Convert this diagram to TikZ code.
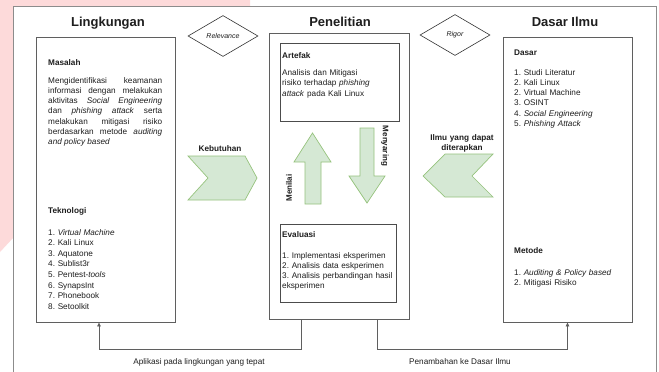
\documentclass[tikz,border=0pt]{standalone}
\usepackage{fontspec}
\setmainfont{Liberation Sans}
\usetikzlibrary{shapes.geometric,arrows.meta}
\definecolor{pinkbg}{RGB}{253,218,218}
\definecolor{boxline}{RGB}{95,95,95}
\definecolor{outerline}{RGB}{140,140,140}
\definecolor{gfill}{RGB}{213,232,212}
\definecolor{gline}{RGB}{150,195,125}
\definecolor{txt}{RGB}{30,30,30}
\newcommand\fsm{\fontsize{8.2}{10.3}\selectfont}
\newcommand\ftitle{\fontsize{13}{15}\selectfont\bfseries}
\begin{document}
\frenchspacing
\begin{tikzpicture}[x=1pt,y=-1pt,
  box/.style={draw=boxline, line width=0.8pt, fill=white, inner sep=0},
  ibox/.style={draw=black!70, line width=0.8pt, fill=white, inner sep=0},
  ttl/.style={font=\ftitle, text=txt, inner sep=0, anchor=base},
  tx/.style={font=\fsm, text=txt, inner sep=0, anchor=base west},
  hd/.style={font=\fsm\bfseries, text=txt, inner sep=0, anchor=base west},
  lst/.style={tx, text width=#1, align=left},
  diam/.style={draw=black!80, line width=0.6pt, fill=white, shape=diamond, minimum width=70pt, minimum height=41pt, inner sep=0, font=\fontsize{7}{8}\selectfont\itshape, text=txt},
  gshape/.style={fill=gfill, draw=gline, line width=0.7pt},
  conn/.style={draw=boxline, line width=0.7pt, -{Triangle[length=4pt,width=3.5pt]}},
  lbl/.style={font=\fsm, text=txt, inner sep=0, anchor=base},
  vlbl/.style={font=\fontsize{8}{9}\selectfont\bfseries, text=txt, inner sep=0}
]
\clip (0,0) rectangle (659,372);
\fill[white] (0,0) rectangle (659,372);
\fill[pinkbg] (0,0) -- (250,0) -- (250,6) -- (13,6) -- (13,238) -- (0,252) -- cycle;
\draw[outerline, line width=1pt, fill=white] (13,390) -- (13,6) -- (656,6) -- (656,390);

% titles
\node[ttl] (tl) at (108,27) {Lingkungan};
\node[ttl] (tp) at (340,27) {Penelitian};
\node[ttl] (td) at (565,27) {Dasar Ilmu};

% main boxes
\node[box, minimum width=139pt, minimum height=285pt] (ling) at (105.5,179.5) {};
\node[box, minimum width=140pt, minimum height=286pt] (pen) at (339,176) {};
\node[box, minimum width=129pt, minimum height=285pt] (dasar) at (567.5,179.5) {};
\node[ibox, minimum width=119pt, minimum height=78pt] (art) at (339.5,82) {};
\node[ibox, minimum width=116pt, minimum height=78pt] (eva) at (338,263) {};

% diamonds
\node[diam] (rel) at (223,36) {Relevance};
\node[diam] (rig) at (455,35) {Rigor};

% chevrons
\draw[gshape] (188,156) -- (245,156) -- (257,178) -- (245,200) -- (188,200) -- (208,178) -- cycle;
\draw[gshape] (423,176) -- (445,154) -- (493,154) -- (472,176) -- (493,197) -- (445,197) -- cycle;
\node[hd, anchor=base] (keb) at (220,151) {Kebutuhan};
\node[font=\fontsize{8.2}{10.5}\selectfont\bfseries, text=txt, inner sep=0, align=center, text width=80pt, anchor=base] (ilmu) at (462,140) {Ilmu yang dapat\\diterapkan};

% up / down arrows
\draw[gshape] (305,204) -- (305,162) -- (294,162) -- (312.5,133) -- (331,162) -- (321,162) -- (321,204) -- cycle;
\draw[gshape] (360,128) -- (374,128) -- (374,176) -- (385,176) -- (367,203) -- (349,176) -- (360,176) -- cycle;
\node[vlbl, rotate=90] (menilai) at (289,188) {Menilai};
\node[vlbl, rotate=-90] (menyaring) at (385,146) {Menyaring};

% left box text
\node[hd] (mas) at (48,65) {Masalah};
\node[tx, text width=114pt, align=justify] (masp) at (48,83) {\noindent Mengidentifikasi keamanan\linebreak informasi dengan melakukan\linebreak aktivitas \textit{Social Engineering}\linebreak dan \textit{phishing attack} serta\linebreak melakukan mitigasi risiko\linebreak berdasarkan metode \textit{auditing}\linebreak \textit{and policy based}};
\node[hd] (tek) at (48,213) {Teknologi};
\node[lst=120pt, font=\fontsize{8.2}{10.6}\selectfont] (tekl) at (48,235) {1. \textit{Virtual Machine}\\ 2. Kali Linux\\ 3. Aquatone\\ 4. Sublist3r\\ 5. Pentest-\textit{tools}\\ 6. SynapsInt\\ 7. Phonebook\\ 8. Setoolkit};

% center text
\node[hd] (arth) at (282,58) {Artefak};
\node[lst=115pt, font=\fontsize{8.2}{10.5}\selectfont] (artt) at (282,75) {Analisis dan Mitigasi\\ risiko terhadap \textit{phishing}\\ \textit{attack} pada Kali Linux};
\node[hd] (evah) at (282,237) {Evaluasi};
\node[lst=115pt, font=\fontsize{8.2}{10}\selectfont] (eval) at (282,258) {1. Implementasi eksperimen\\ 2. Analisis data eskperimen\\ 3. Analisis perbandingan hasil\\ eksperimen};

% right box text
\node[hd] (dash) at (514,55) {Dasar};
\node[lst=115pt] (dasl) at (514,75) {1. Studi Literatur\\ 2. Kali Linux\\ 2. Virtual Machine\\ 3. OSINT\\ 4. \textit{Social Engineering}\\ 5. \textit{Phishing Attack}};
\node[hd] (meth) at (514,253) {Metode};
\node[lst=115pt] (metl) at (514,275) {1. \textit{Auditing \& Policy based}\\ 2. Mitigasi Risiko};

% connectors
\coordinate (b1) at (301,349);
\coordinate (b2) at (377,349);
\draw[conn] (pen.south -| b1) -- (b1) -| ([xshift=-6.5pt]ling.south);
\draw[conn] (pen.south -| b2) -- (b2) -| (dasar.south);
\node[lbl] (l1) at (199,364) {Aplikasi pada lingkungan yang tepat};
\node[lbl] (l2) at (460,364) {Penambahan ke Dasar Ilmu};
\end{tikzpicture}
\end{document}
